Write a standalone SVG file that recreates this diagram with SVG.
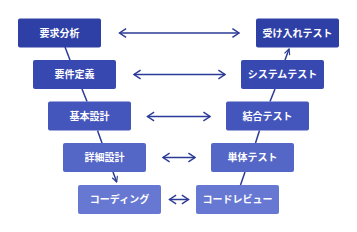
<svg xmlns="http://www.w3.org/2000/svg" width="357" height="232" viewBox="0 0 357 232">
<defs>
<style>
.box rect{rx:2;ry:2}
.r1{fill:#2e3fa5}.r2{fill:#3748b0}.r3{fill:#4455bb}.r4{fill:#5466c6}.r5{fill:#6678d2}
text{font-family:"Noto Sans CJK JP","Noto Sans",sans-serif;font-size:10px;font-weight:bold;fill:#fff;text-anchor:middle}
.c line{stroke:#2b3a96;stroke-width:1.5;fill:none}
</style>
<marker id="ah" viewBox="0 0 10 10" refX="9" refY="5" markerWidth="7" markerHeight="7" markerUnits="userSpaceOnUse" orient="auto-start-reverse">
<path d="M1,1 L9,5 L1,9" fill="none" stroke="#2b3a96" stroke-width="1.6"/>
</marker>
<marker id="ah2" viewBox="0 0 10 10" refX="9" refY="5" markerWidth="11" markerHeight="11" markerUnits="userSpaceOnUse" orient="auto-start-reverse">
<path d="M3,1 L9,5 L3,9" fill="none" stroke="#2b3a96" stroke-width="1.3"/>
</marker>
</defs>
<g id="connectors" class="c">
<line x1="65" y1="47" x2="70" y2="60"/>
<line x1="82" y1="89" x2="87" y2="101.5"/>
<line x1="97.5" y1="130.5" x2="102" y2="143"/>
<line x1="113" y1="172" x2="116.7" y2="182" marker-end="url(#ah)"/>
<line x1="240.5" y1="185" x2="245" y2="172"/>
<line x1="255.5" y1="143" x2="259.5" y2="130.5"/>
<line x1="270" y1="101.5" x2="275" y2="89"/>
<line x1="285" y1="60" x2="289" y2="49" marker-end="url(#ah)"/>
<line x1="119.5" y1="33" x2="239" y2="33" marker-start="url(#ah2)" marker-end="url(#ah2)"/>
<line x1="134" y1="74.5" x2="225" y2="74.5" marker-start="url(#ah2)" marker-end="url(#ah2)"/>
<line x1="147.5" y1="116.5" x2="210" y2="116.5" marker-start="url(#ah2)" marker-end="url(#ah2)"/>
<line x1="163" y1="157.5" x2="195" y2="157.5" marker-start="url(#ah2)" marker-end="url(#ah2)"/>
<line x1="169.5" y1="199.5" x2="188.5" y2="199.5" marker-start="url(#ah2)" marker-end="url(#ah2)"/>
</g>
<g id="n-youkyu" class="box"><rect class="r1" x="18" y="18.5" width="83" height="29"/><text x="59.5" y="36.5">要求分析</text></g>
<g id="n-youken" class="box"><rect class="r2" x="33" y="60" width="83" height="29"/><text x="74.5" y="78">要件定義</text></g>
<g id="n-kihon" class="box"><rect class="r3" x="48" y="101.5" width="83" height="29"/><text x="89.5" y="119.5">基本設計</text></g>
<g id="n-shousai" class="box"><rect class="r4" x="63" y="143" width="83" height="29"/><text x="104.5" y="161">詳細設計</text></g>
<g id="n-coding" class="box"><rect class="r5" x="78" y="185" width="83" height="29"/><text x="119.5" y="203">コーディング</text></g>
<g id="n-ukeire" class="box"><rect class="r1" x="256" y="18.5" width="83" height="29"/><text x="297.5" y="36.5">受け入れテスト</text></g>
<g id="n-system" class="box"><rect class="r2" x="241" y="60" width="83" height="29"/><text x="282.5" y="78">システムテスト</text></g>
<g id="n-ketsugou" class="box"><rect class="r3" x="226" y="101.5" width="83" height="29"/><text x="267.5" y="119.5">結合テスト</text></g>
<g id="n-tantai" class="box"><rect class="r4" x="211" y="143" width="83" height="29"/><text x="252.5" y="161">単体テスト</text></g>
<g id="n-review" class="box"><rect class="r5" x="196" y="185" width="83" height="29"/><text x="237.5" y="203">コードレビュー</text></g>
</svg>
